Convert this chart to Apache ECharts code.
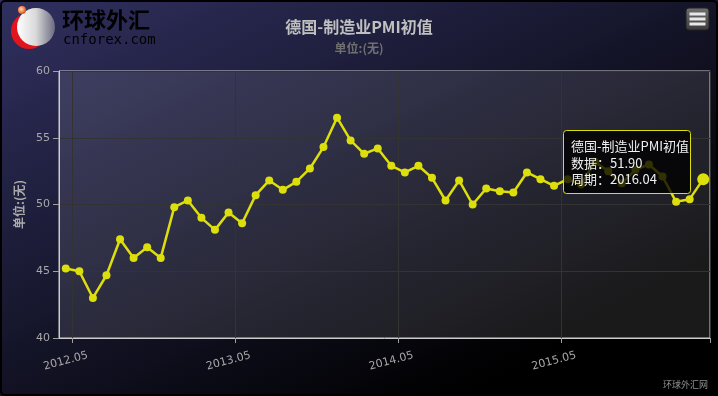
<!DOCTYPE html>
<html>
<head>
<meta charset="utf-8">
<script src="https://cdn.jsdelivr.net/npm/echarts@6/dist/echarts.min.js"></script>
<style>
html,body{margin:0;padding:0;background:#000;}
#chart{width:718px;height:396px;}
</style>
</head>
<body>
<div id="chart"></div>
<script>
const titleText = '德国-制造业PMI初值';
const subTitleText = '单位:(无)';
const yAxisName = '单位:(无)';
const seriesName = '德国-制造业PMI初值';
const creditText = '环球外汇网';
const logoName = '环球外汇';
const logoSite = 'cnforex.com';
const categories = [
  '2012.05','2012.06','2012.07','2012.08','2012.09','2012.10','2012.11','2012.12',
  '2013.01','2013.02','2013.03','2013.04','2013.05','2013.06','2013.07','2013.08',
  '2013.09','2013.10','2013.11','2013.12','2014.01','2014.02','2014.03','2014.04',
  '2014.05','2014.06','2014.07','2014.08','2014.09','2014.10','2014.11','2014.12',
  '2015.01','2015.02','2015.03','2015.04','2015.05','2015.06','2015.07','2015.08',
  '2015.09','2015.10','2015.11','2015.12','2016.01','2016.02','2016.03','2016.04'
];
const values = [
  45.2, 45.0, 43.0, 44.7, 47.4, 46.0, 46.8, 46.0,
  49.8, 50.3, 49.0, 48.1, 49.4, 48.6, 50.7, 51.8,
  51.1, 51.7, 52.7, 54.3, 56.5, 54.8, 53.8, 54.2,
  52.9, 52.4, 52.9, 52.0, 50.3, 51.8, 50.0, 51.2,
  51.0, 50.9, 52.4, 51.9, 51.4, 51.9, 51.5, 53.2,
  52.5, 51.6, 52.6, 53.0, 52.1, 50.2, 50.4, 51.9
];
const yMin = 40, yMax = 60, yStep = 5;

const lineColor = '#DDDF0D';
const lastIdx = values.length - 1;
const seriesData = values.map((v, i) => i === lastIdx ? {value: v, symbolSize: 12} : v);

const chart = echarts.init(document.getElementById('chart'), null, {renderer: 'canvas'});
const cjk = '"Noto Sans CJK SC", "DejaVu Sans", sans-serif';
const lat = '"DejaVu Sans", Verdana, sans-serif';

chart.setOption({
  animation: false,
  darkMode: false,
  backgroundColor: {
    type: 'linear', x: 0, y: 0, x2: 250, y2: 500, global: true,
    colorStops: [{offset: 0, color: 'rgb(48,48,96)'}, {offset: 1, color: 'rgb(0,0,0)'}]
  },
  title: {
    text: titleText,
    subtext: subTitleText,
    left: 'center',
    top: 18,
    padding: 0,
    itemGap: 6,
    textStyle: {color: '#C0C0C0', fontSize: 16, fontWeight: 'bold', fontFamily: cjk, lineHeight: 18},
    subtextStyle: {color: '#707070', fontSize: 12, fontWeight: 'bold', fontFamily: cjk, lineHeight: 13}
  },
  grid: {
    left: 59, right: 8, top: 71, bottom: 58,
    show: true,
    backgroundColor: 'rgba(255,255,255,0.1)',
    borderColor: '#CCCCCC',
    borderWidth: 1
  },
  xAxis: {
    type: 'category',
    data: categories,
    boundaryGap: true,
    axisLine: {show: true, lineStyle: {color: '#CCCCCC', width: 1}},
    axisTick: {show: true, length: 5, lineStyle: {color: '#A0A0A0'}, interval: (i) => i % 12 === 1},
    splitLine: {show: true, lineStyle: {color: '#333333', width: 1}, interval: (i) => i % 12 === 1},
    axisLabel: {
      interval: (i) => i % 12 === 0,
      rotate: 15,
      align: 'center',
      verticalAlign: 'middle',
      margin: 23,
      color: '#A8A8A8',
      fontSize: 11,
      fontFamily: lat
    }
  },
  yAxis: {
    type: 'value',
    min: yMin, max: yMax, interval: yStep,
    name: yAxisName,
    nameLocation: 'middle',
    nameGap: 27,
    nameRotate: 90,
    nameTextStyle: {color: '#AAAAAA', fontSize: 12, fontWeight: 'bold', fontFamily: cjk},
    axisLine: {show: true, lineStyle: {color: '#CCCCCC'}},
    axisTick: {show: true, length: 6, lineStyle: {color: '#A0A0A0'}},
    splitLine: {show: true, lineStyle: {color: '#333333', width: 1}},
    axisLabel: {color: '#A8A8A8', fontSize: 11, margin: 9, fontFamily: lat}
  },
  series: [{
    name: seriesName,
    type: 'line',
    data: seriesData,
    symbol: 'circle',
    symbolSize: 8,
    showSymbol: true,
    itemStyle: {color: lineColor},
    lineStyle: {color: lineColor, width: 2.5},
    z: 3
  }],
  graphic: [
    // logo
    {type: 'circle', shape: {cx: 29, cy: 31, r: 18}, style: {fill: '#e3151c'}, z: 10},
    {type: 'circle', shape: {cx: 36, cy: 27, r: 19}, style: {
      fill: {type: 'linear', x: 0, y: 0, x2: 1, y2: 0,
        colorStops: [{offset: 0, color: '#ffffff'}, {offset: 0.5, color: '#d8d8d8'}, {offset: 1, color: '#6a6a80'}]}
    }, z: 11},
    {type: 'circle', shape: {cx: 22, cy: 10, r: 4}, style: {
      fill: {type: 'radial', x: 0.4, y: 0.4, r: 0.6,
        colorStops: [{offset: 0, color: '#ffe0b0'}, {offset: 1, color: '#e84a10'}]}
    }, z: 12},
    {type: 'text', x: 62, y: 20, z: 12, style: {
      text: logoName, font: 'bold 22px "Noto Sans CJK SC"', verticalAlign: 'middle',
      fill: {type: 'linear', x: 0, y: 0, x2: 0, y2: 1, colorStops: [{offset: 0, color: '#000000'}, {offset: 1, color: '#0a0a0a'}]}
    }},
    {type: 'text', x: 63, y: 40, z: 12, style: {
      text: logoSite, font: '14px "DejaVu Sans Mono", monospace', verticalAlign: 'middle',
      fill: {type: 'linear', x: 0, y: 0, x2: 0, y2: 1, colorStops: [{offset: 0, color: '#000000'}, {offset: 1, color: '#0a0a0a'}]}
    }},
    // menu button
    {type: 'rect', shape: {x: 686, y: 8, width: 23, height: 22, r: 3}, style: {
      fill: {type: 'linear', x: 0, y: 0, x2: 0, y2: 1, colorStops: [{offset: 0, color: '#707070'}, {offset: 1, color: '#3a3a3a'}]},
      stroke: '#222', lineWidth: 1}, z: 10},
    {type: 'rect', shape: {x: 689.5, y: 12.5, width: 16, height: 3}, style: {fill: '#E8E8E8'}, z: 11},
    {type: 'rect', shape: {x: 689.5, y: 17.5, width: 16, height: 3}, style: {fill: '#E8E8E8'}, z: 11},
    {type: 'rect', shape: {x: 689.5, y: 22.5, width: 16, height: 3}, style: {fill: '#E8E8E8'}, z: 11},
    // tooltip
    {type: 'group', z: 100, children: [
      {type: 'rect', shape: {x: 563.5, y: 130.5, width: 127, height: 63, r: 3},
        style: {fill: 'rgba(0,0,0,0.78)', stroke: lineColor, lineWidth: 1}, z: 100},
      {type: 'text', x: 571, y: 146, style: {text: seriesName, fill: '#F0F0F0', font: '13px "Noto Sans CJK SC"', verticalAlign: 'middle'}, z: 101},
      {type: 'text', x: 571, y: 163, style: {text: '数据：' + values[lastIdx].toFixed(2), fill: '#F0F0F0', font: '13px "Noto Sans CJK SC"', verticalAlign: 'middle'}, z: 101},
      {type: 'text', x: 571, y: 179.5, style: {text: '周期：' + categories[lastIdx], fill: '#F0F0F0', font: '13px "Noto Sans CJK SC"', verticalAlign: 'middle'}, z: 101}
    ]},
    // credits
    {type: 'text', x: 708, y: 385, style: {text: creditText, fill: '#909090', font: '9px "Noto Sans CJK SC"', align: 'right', verticalAlign: 'middle'}, z: 10},
    // chart border
    {type: 'rect', shape: {x: 1, y: 1, width: 716, height: 394, r: 4}, style: {fill: 'none', stroke: '#000', lineWidth: 2}, z: 50, silent: true}
  ]
});
</script>
</body>
</html>
